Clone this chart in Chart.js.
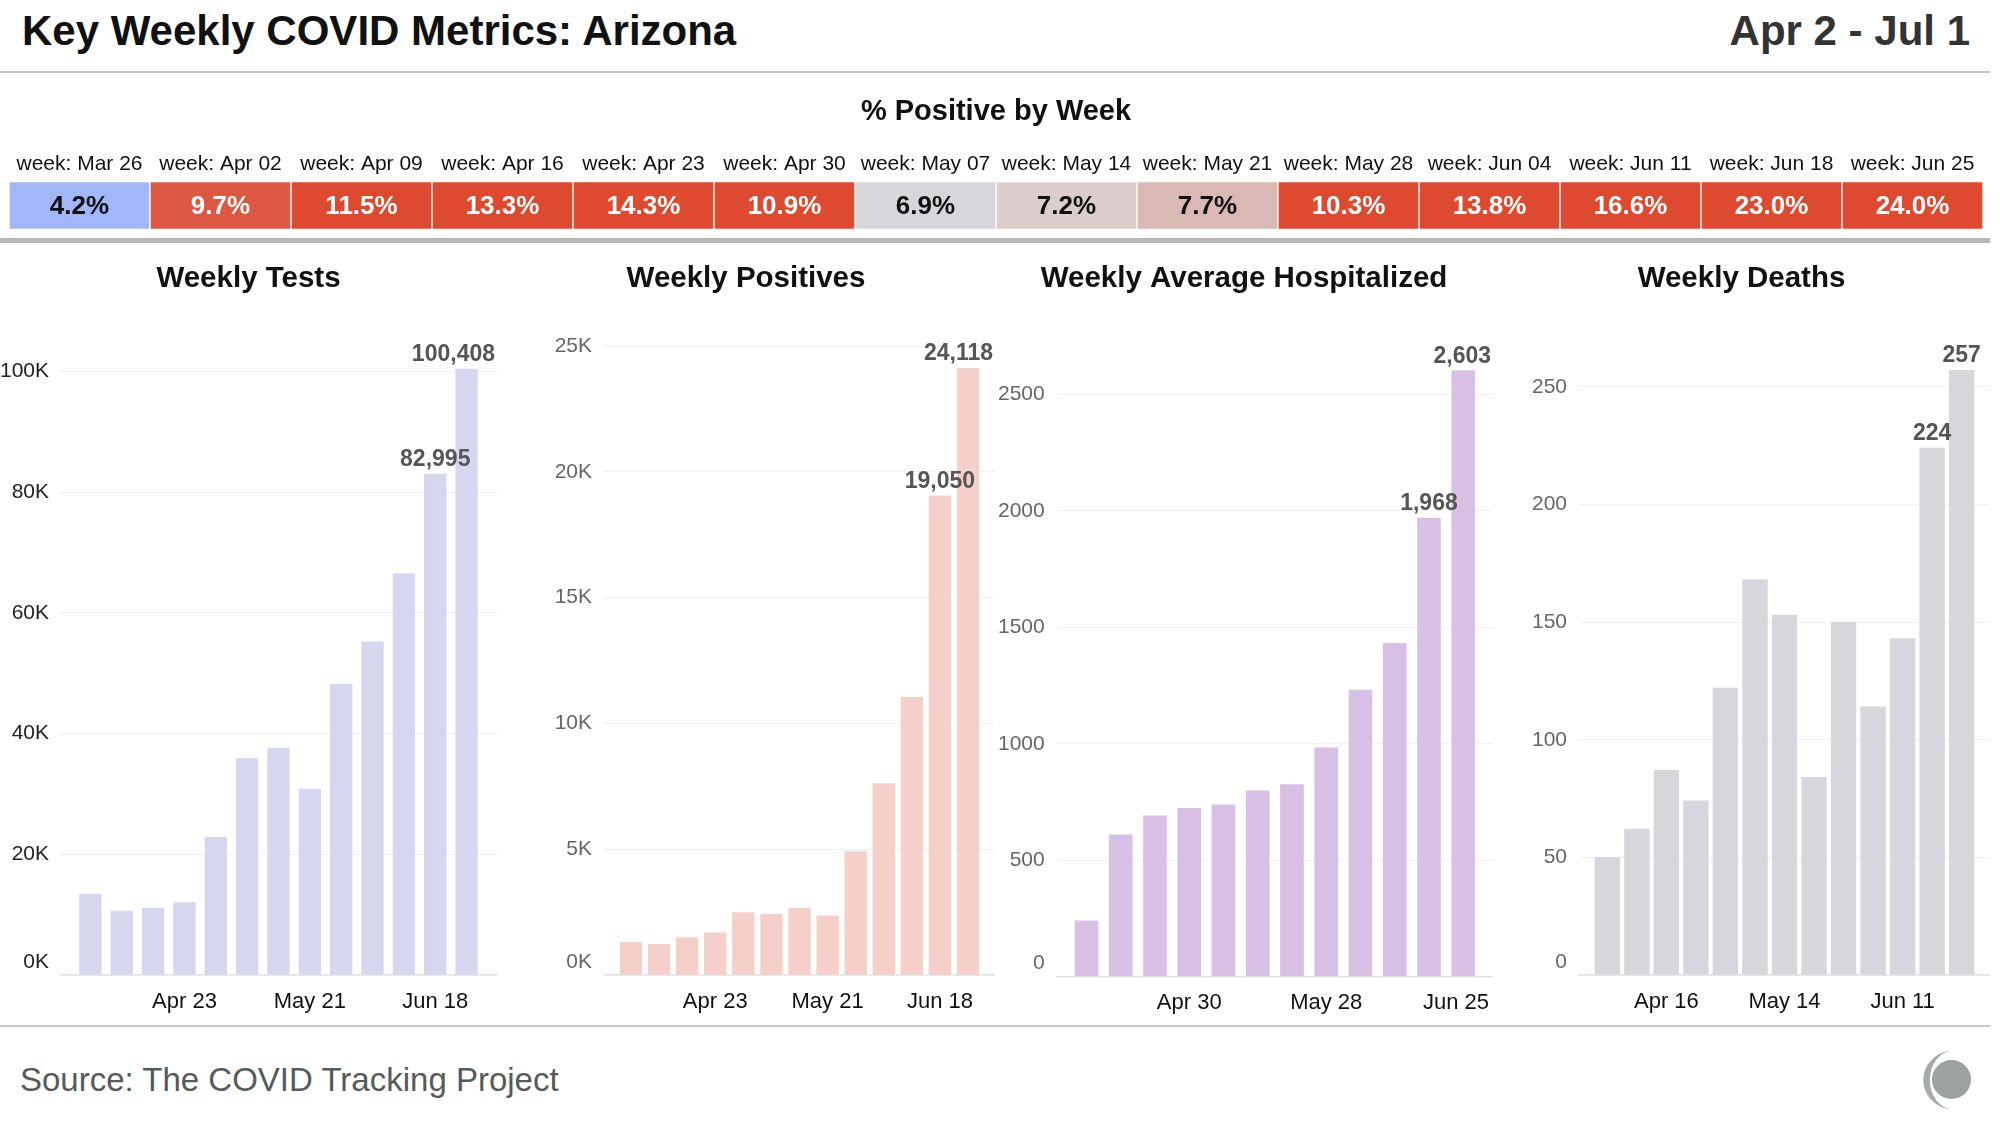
<!DOCTYPE html>
<html>
<head>
<meta charset="utf-8">
<script src="https://cdn.jsdelivr.net/npm/chart.js@4.4.1/dist/chart.umd.min.js"></script>
<style>
  html, body { margin:0; padding:0; background:#fff; width:2000px; height:1143px; overflow:hidden;
    font-family:"Liberation Sans", Arial, sans-serif; }
  .abs { position:absolute; white-space:nowrap; }
  #headline { left:22px; top:9.5px; font-size:42px; line-height:42px; font-weight:bold; color:#111; }
  #range { right:30px; top:9.5px; font-size:42px; line-height:42px; font-weight:bold; color:#333; }
  .sep { position:absolute; left:0; width:1990px; }
  #source { left:20px; top:1063px; font-size:33px; line-height:33px; color:#555a5a; }
  canvas { position:absolute; }
</style>
</head>
<body>
<div id="headline" class="abs">Key Weekly COVID Metrics: Arizona</div>
<div id="range" class="abs">Apr 2 - Jul 1</div>
<div class="sep" style="top:71px;height:2px;background:#c6c6c6;"></div>
<div class="sep" style="top:237.5px;height:5px;background:#b7b7b7;"></div>
<div class="sep" style="top:1025px;height:2px;background:#c6c6c6;"></div>
<div id="source" class="abs">Source: The COVID Tracking Project</div>
<svg class="abs" style="left:1915px;top:1040px;" width="80" height="80" viewBox="0 0 80 80">
  <path d="M38.3 10.5 A30 29.5 0 0 0 38.3 69.5 A23.5 29.5 0 0 1 38.3 10.5 Z" fill="#a6abaa"/>
  <circle cx="36.5" cy="39.5" r="19.5" fill="#9ca2a1"/>
</svg>

<canvas id="pct" width="1990" height="160" style="left:0;top:75px;"></canvas>
<canvas id="tests" width="497" height="784" style="left:0;top:240px;"></canvas>
<canvas id="positives" width="498" height="784" style="left:497px;top:240px;"></canvas>
<canvas id="hosp" width="498" height="784" style="left:995px;top:240px;"></canvas>
<canvas id="deaths" width="497" height="784" style="left:1493px;top:240px;"></canvas>

<script>
// ---------------- DATA ----------------
const pctWeeks = ['Mar 26','Apr 02','Apr 09','Apr 16','Apr 23','Apr 30','May 07','May 14','May 21','May 28','Jun 04','Jun 11','Jun 18','Jun 25'];
const pctValues = [4.2, 9.7, 11.5, 13.3, 14.3, 10.9, 6.9, 7.2, 7.7, 10.3, 13.8, 16.6, 23.0, 24.0];

const weeks = ['Apr 2','Apr 9','Apr 16','Apr 23','Apr 30','May 7','May 14','May 21','May 28','Jun 4','Jun 11','Jun 18','Jun 25'];
const hospWeeks = ['Apr 9','Apr 16','Apr 23','Apr 30','May 7','May 14','May 21','May 28','Jun 4','Jun 11','Jun 18','Jun 25'];

const testsValues = [13400, 10600, 11100, 12000, 22800, 35900, 37600, 30800, 48200, 55200, 66500, 82995, 100408];
const positivesValues = [1300, 1220, 1480, 1680, 2480, 2410, 2660, 2350, 4910, 7610, 11040, 19050, 24118];
const hospValues = [239, 609, 690, 723, 738, 798, 824, 982, 1231, 1431, 1968, 2603];
const deathsValues = [50, 62, 87, 74, 122, 168, 153, 84, 150, 114, 143, 224, 257];

const testsTickLabels = ['Apr 23','May 21','Jun 18'];
const positivesTickLabels = ['Apr 23','May 21','Jun 18'];
const hospTickLabels = ['Apr 30','May 28','Jun 25'];
const deathsTickLabels = ['Apr 16','May 14','Jun 11'];

const testsYTicks = [0, 20000, 40000, 60000, 80000, 100000];
const positivesYTicks = [0, 5000, 10000, 15000, 20000, 25000];
const hospYTicks = [0, 500, 1000, 1500, 2000, 2500];
const deathsYTicks = [0, 50, 100, 150, 200, 250];

// ---------------- STYLE ----------------
const FONT = "'Liberation Sans', Arial, sans-serif";
Chart.defaults.font.family = FONT;
const pctColors = ['#a2b7fa','#dc5843','#dd4a30','#dd4a30','#dd4a30','#dd4a30','#d6d6db','#dccdcd','#dab8b3','#dd4a30','#dd4a30','#dd4a30','#dd4a30','#dd4a30'];

function textColorFor(hex) {
  const r = parseInt(hex.slice(1,3),16), g = parseInt(hex.slice(3,5),16), b = parseInt(hex.slice(5,7),16);
  return (0.2126*r + 0.7152*g + 0.0722*b) / 255 > 0.55 ? '#111' : '#fff';
}

// ---------------- % POSITIVE CELLS ----------------
const pctPlugin = {
  id: 'pctText',
  afterDatasetsDraw(chart) {
    const ctx = chart.ctx;
    const meta = chart.getDatasetMeta(0);
    ctx.save();
    ctx.font = `bold 26px ${FONT}`;
    ctx.textAlign = 'center';
    ctx.textBaseline = 'middle';
    meta.data.forEach((el, i) => {
      ctx.fillStyle = textColorFor(pctColors[i]);
      ctx.fillText(pctValues[i].toFixed(1) + '%', el.x, (el.y + el.base) / 2 + 1);
    });
    ctx.restore();
  }
};

new Chart(document.getElementById('pct'), {
  type: 'bar',
  data: {
    labels: pctWeeks.map(w => 'week: ' + w),
    datasets: [{
      data: pctValues.map(() => 1),
      backgroundColor: pctColors,
      borderColor: '#ffffff',
      borderWidth: 1,
      borderSkipped: false,
      categoryPercentage: 1,
      barPercentage: 1
    }]
  },
  options: {
    responsive: false, animation: false, events: [],
    layout: { padding: { left: 9, right: 7, top: 0, bottom: 5.5 } },
    plugins: {
      legend: { display: false }, tooltip: { enabled: false },
      title: { display: true, text: '% Positive by Week', color: '#111',
        font: { size: 29, weight: 'bold' }, padding: { top: 19.3, bottom: 0 } }
    },
    scales: {
      x: { position: 'top', grid: { display: false, drawTicks: false }, border: { display: false },
        ticks: { font: { size: 21 }, color: '#111', padding: 4.7, autoSkip: false, maxRotation: 0, minRotation: 0 },
        afterFit: s => { s.height = 52.4; } },
      y: { display: false, min: 0, max: 1 }
    }
  },
  plugins: [pctPlugin]
});

// ---------------- WEEKLY BAR CHARTS ----------------
function drawLabels(chart, cfg) {
  const ctx = chart.ctx, xs = chart.scales.x, ys = chart.scales.y, area = chart.chartArea;
  ctx.save();
  ctx.font = `21px ${FONT}`;
  ctx.fillStyle = cfg.yColor;
  ctx.textAlign = 'right';
  ctx.textBaseline = 'middle';
  ys.ticks.forEach(t => {
    const py = ys.getPixelForValue(t.value) + (t.value === 0 ? -13 : 0);
    ctx.fillText(cfg.yFmt(t.value), area.left - cfg.yPad, py);
  });
  ctx.font = `22px ${FONT}`;
  ctx.fillStyle = '#111';
  ctx.textAlign = 'center';
  cfg.tickLabels.forEach(lbl => {
    const i = cfg.weeks.indexOf(lbl);
    const w = ctx.measureText(lbl).width;
    const px = Math.min(xs.getPixelForValue(i), area.right - 4 - w / 2);
    ctx.fillText(lbl, px, area.bottom + 26.5);
  });
  ctx.font = `bold 23px ${FONT}`;
  ctx.fillStyle = '#555';
  ctx.textBaseline = 'alphabetic';
  const n = cfg.values.length;
  for (let i = n - 2; i < n; i++) {
    const v = cfg.values[i];
    const txt = v.toLocaleString('en-US');
    const w = ctx.measureText(txt).width;
    const px = Math.min(xs.getPixelForValue(i), area.right - 2 - w / 2);
    ctx.fillText(txt, px, ys.getPixelForValue(v) - 8);
  }
  ctx.restore();
}

function makeBarChart(id, cfg) {
  new Chart(document.getElementById(id), {
    type: 'bar',
    data: {
      datasets: [{
        data: cfg.values.map((v, i) => ({ x: i, y: v })),
        backgroundColor: cfg.color,
        borderWidth: 0,
        barThickness: cfg.barW
      }]
    },
    options: {
      responsive: false, animation: false, events: [],
      layout: { padding: 0 },
      plugins: {
        legend: { display: false }, tooltip: { enabled: false },
        title: { display: true, text: cfg.title, color: '#111',
          font: { size: 29.5, weight: 'bold' }, padding: { top: 21.4, bottom: 33.4 } }
      },
      scales: {
        x: { type: 'linear', offset: false, min: -cfg.pad, max: cfg.values.length - 1 + cfg.pad,
          grid: { display: false, drawTicks: false },
          border: { display: true, color: '#e4e4e4', width: 1.5 },
          ticks: { display: false },
          afterFit: s => { s.height = cfg.xH; } },
        y: { min: 0, max: cfg.yMax, bounds: 'data',
          ticks: { display: false },
          afterBuildTicks: s => { s.ticks = cfg.yTicks.map(v => ({ value: v })); },
          grid: { color: '#f1f1f1', drawTicks: false, lineWidth: 1 },
          border: { display: false },
          afterFit: s => { s.width = cfg.axisW; } }
      }
    },
    plugins: [{ id: 'lbl_' + id, afterDraw(chart) { drawLabels(chart, cfg); } }]
  });
}

const kFmt = v => (v / 1000) + 'K';
const plainFmt = v => String(v);

makeBarChart('tests', { title: 'Weekly Tests', values: testsValues, weeks: weeks, tickLabels: testsTickLabels,
  yTicks: testsYTicks, color: '#d6d6ee', barW: 21.7, pad: 0.97, axisW: 60, yPad: 11, yColor: '#222', yFmt: kFmt,
  yMax: 106859, xH: 49 });
makeBarChart('positives', { title: 'Weekly Positives', values: positivesValues, weeks: weeks, tickLabels: positivesTickLabels,
  yTicks: positivesYTicks, color: '#f5cfca', barW: 21.7, pad: 0.96, axisW: 107, yPad: 12, yColor: '#666', yFmt: kFmt,
  yMax: 25632, xH: 49 });
makeBarChart('hosp', { title: 'Weekly Average Hospitalized', values: hospValues, weeks: hospWeeks, tickLabels: hospTickLabels,
  yTicks: hospYTicks, color: '#d8bfe4', barW: 23, pad: 0.87, axisW: 61.7, yPad: 12, yColor: '#666', yFmt: plainFmt,
  yMax: 2776.6, xH: 47.5 });
makeBarChart('deaths', { title: 'Weekly Deaths', values: deathsValues, weeks: weeks, tickLabels: deathsTickLabels,
  yTicks: deathsYTicks, color: '#d6d6dc', barW: 24.7, pad: 0.96, axisW: 86, yPad: 12, yColor: '#666', yFmt: plainFmt,
  yMax: 274.1, xH: 49 });
</script>
</body>
</html>
